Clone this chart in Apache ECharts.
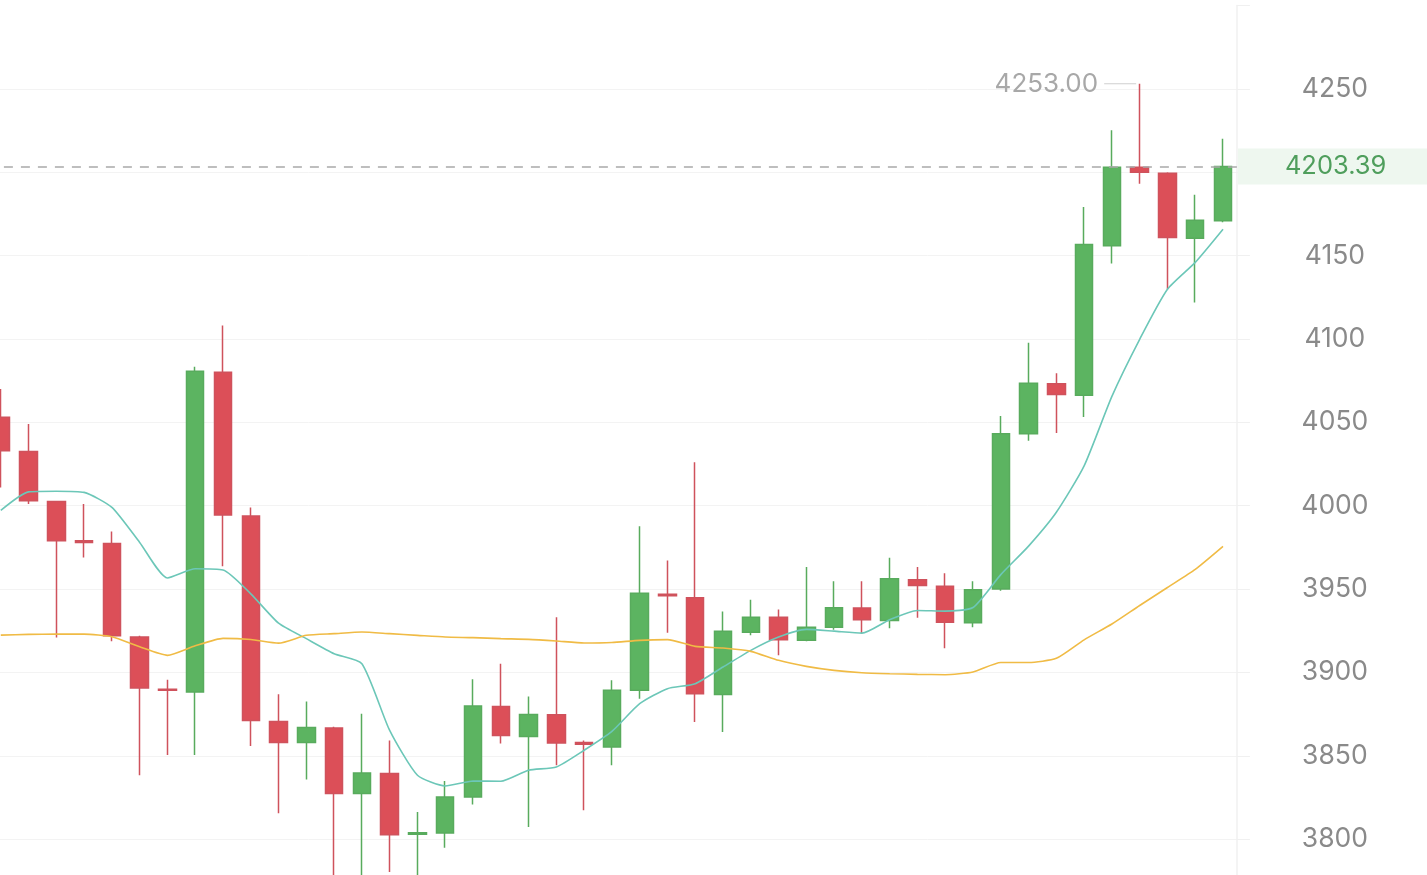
<!DOCTYPE html>
<html>
<head>
<meta charset="utf-8">
<script src="https://cdn.jsdelivr.net/npm/echarts@6/dist/echarts.min.js"></script>
<style>
html,body{margin:0;padding:0;background:#fff;}
#chart{width:1427px;height:875px;}
</style>
</head>
<body>
<div id="chart"></div>
<script>
// ---- data ----
const categories = ['01','02','03','04','05','06','07','08','09','10','11','12','13','14','15',
  '16','17','18','19','20','21','22','23','24','25','26','27','28','29','30',
  '31','32','33','34','35','36','37','38','39','40','41','42','43','44','45'];

// [open, close, low, high]
const ohlc = [
  [4053, 4033, 4011, 4070],
  [4032.5, 4003, 4001, 4049],
  [4002.5, 3979, 3921, 4003],
  [3979, 3978, 3969, 4001],
  [3977.4, 3922, 3918.7, 3984.6],
  [3921.3, 3890.7, 3838.4, 3922],
  [3890, 3889.4, 3850.5, 3895.6],
  [3888.3, 4080.6, 3850.5, 4083.4],
  [4080.1, 3994.5, 3963.7, 4108],
  [3993.8, 3871.3, 3856, 3999],
  [3870.7, 3858.1, 3815.6, 3887],
  [3858, 3867, 3835.8, 3882.7],
  [3866.7, 3827.4, 3765, 3867.5],
  [3827.4, 3839.8, 3768, 3875.3],
  [3839.4, 3802.8, 3780.4, 3859.3],
  [3803, 3804, 3765, 3816.4],
  [3803.8, 3825.4, 3795, 3835],
  [3825.4, 3879.9, 3820.8, 3895.9],
  [3879.7, 3862.3, 3857.4, 3905.3],
  [3861.7, 3874.9, 3807.4, 3885.7],
  [3874.7, 3857.7, 3844.4, 3933.2],
  [3858, 3857, 3817.4, 3859.3],
  [3855.3, 3889.3, 3844.4, 3895.3],
  [3889.3, 3947.6, 3884.3, 3987.7],
  [3947, 3946, 3923.9, 3967.2],
  [3944.8, 3887.3, 3870.3, 4026.1],
  [3886.9, 3924.8, 3864.3, 3936.6],
  [3924.2, 3933.2, 3922.3, 3943.6],
  [3933.2, 3919.7, 3910.3, 3937.8],
  [3919.3, 3927.2, 3918.7, 3963.2],
  [3927.2, 3938.9, 3925.7, 3954.8],
  [3938.7, 3931.7, 3923.6, 3954.8],
  [3931.2, 3956.2, 3926.6, 3968.8],
  [3955.6, 3952.2, 3932.9, 3963.2],
  [3951.8, 3930.2, 3914.6, 3959.6],
  [3929.9, 3949.6, 3927.2, 3954.8],
  [3950.1, 4043.2, 3949, 4053.8],
  [4043.2, 4073.5, 4038.9, 4097.8],
  [4073.1, 4066.7, 4043.6, 4079.5],
  [4066.3, 4156.6, 4053.2, 4179.1],
  [4155.9, 4203, 4145.2, 4225.1],
  [4203, 4200, 4193, 4253],
  [4199.4, 4160.8, 4129.8, 4200],
  [4160.4, 4171.2, 4121.9, 4186.5],
  [4170.9, 4203.39, 4170, 4220.1]
];

const maFast = [3997.2, 4008.3, 4008.7, 4008, 3999, 3978, 3956.7, 3962.2, 3961.5, 3947.2,
  3929.6, 3920.3, 3911.3, 3905.3, 3865.3, 3838.4, 3832, 3835, 3834.8, 3841.4,
  3843.4, 3853.4, 3864.7, 3881.3, 3890.3, 3893.3, 3903.3, 3913.3, 3921.3, 3925.9,
  3924.8, 3923.6, 3931.7, 3937.2, 3936.8, 3939, 3958.7, 3975.8, 3996.1, 4023.9,
  4065.6, 4099.8, 4129.8, 4145.9, 4165.8];

const maSlow = [3922.4, 3922.9, 3923, 3923, 3921.5, 3915.4, 3910.3, 3916, 3920.5, 3919.8,
  3917.6, 3922.3, 3923.3, 3924.3, 3923.3, 3922.3, 3921.3, 3920.9, 3920.3, 3919.9,
  3918.9, 3917.7, 3918, 3919.3, 3919.7, 3915.7, 3914.7, 3912.7, 3907.3, 3903.7,
  3901.3, 3899.9, 3899.3, 3898.9, 3898.7, 3900.3, 3906, 3906, 3908.5, 3919.6,
  3929.1, 3940.2, 3951, 3961.8, 3975.6];

const lastPrice = 4203.39;
const yTickLabels = [3800, 3850, 3900, 3950, 4000, 4050, 4100, 4150, 4250];

// ---- chart ----
const chart = echarts.init(document.getElementById('chart'), null, {renderer: 'canvas'});
const FONT = 'Inter, Roboto, sans-serif';
const GRID_C = '#f3f3f3';
chart.setOption({
  animation: false,
  backgroundColor: '#ffffff',
  grid: { left: -13.1, width: 1250, top: 5.4, height: 917.3, containLabel: false, outerBoundsMode: 'none' },
  xAxis: {
    type: 'category',
    data: categories,
    boundaryGap: true,
    axisLine: { show: false },
    axisTick: { show: false },
    axisLabel: { show: false },
    splitLine: { show: false }
  },
  yAxis: {
    type: 'value',
    position: 'right',
    min: 3750,
    max: 4300,
    interval: 50,
    axisLine: { show: true, lineStyle: { color: '#f0f0f0', width: 1.5 } },
    axisTick: { show: true, length: 13, lineStyle: { color: '#f0f0f0' } },
    splitLine: { show: true, lineStyle: { color: [GRID_C, GRID_C, GRID_C, GRID_C, GRID_C, GRID_C,
      GRID_C, GRID_C, GRID_C, GRID_C, GRID_C, 'rgba(0,0,0,0)'], width: 1 } },
    axisLabel: {
      show: true,
      margin: 98,
      align: 'center',
      color: '#8a8a8a',
      fontFamily: FONT,
      fontSize: 26.5,
      formatter: v => (yTickLabels.indexOf(v) >= 0 ? String(v) : '')
    }
  },
  series: [
    {
      type: 'candlestick',
      data: ohlc,
      barWidth: 18,
      itemStyle: {
        color: '#5cb461',
        color0: '#dc4f58',
        borderColor: '#58ab5d',
        borderColor0: '#cf525c',
        borderWidth: 1.5
      },
      markLine: {
        symbol: ['none', 'none'],
        silent: true,
        animation: false,
        data: [{ yAxis: lastPrice }],
        lineStyle: { type: [9, 8], color: '#a9a9a9', width: 1.5 },
        label: {
          show: true,
          position: 'end',
          distance: 1,
          formatter: () => lastPrice.toFixed(2),
          color: '#4f9e5c',
          fontFamily: FONT,
          fontSize: 25.5,
          lineHeight: 26,
          backgroundColor: '#eef7ef',
          padding: [5, 60, 5, 47]
        }
      },
      markPoint: {
        symbol: 'circle',
        symbolSize: 1,
        silent: true,
        itemStyle: { color: 'rgba(0,0,0,0)' },
        data: [{ type: 'max', valueDim: 'highest' }],
        label: {
          show: true,
          position: 'left',
          distance: 3,
          formatter: p => '{t|' + Number(p.value).toFixed(2) + '}{g|}{l|}',
          rich: {
            t: { color: '#a8a8a8', fontFamily: FONT, fontSize: 26, lineHeight: 28 },
            g: { width: 6, height: 1 },
            l: { width: 32, height: 1, backgroundColor: '#cfcfcf' }
          }
        }
      }
    },
    {
      type: 'line',
      data: maFast,
      smooth: 0.2,
      symbol: 'none',
      lineStyle: { color: '#6cc7b8', width: 1.6 },
      z: 3
    },
    {
      type: 'line',
      data: maSlow,
      smooth: 0.2,
      symbol: 'none',
      lineStyle: { color: '#f0bb45', width: 1.6 },
      z: 3
    }
  ]
});
</script>
</body>
</html>
